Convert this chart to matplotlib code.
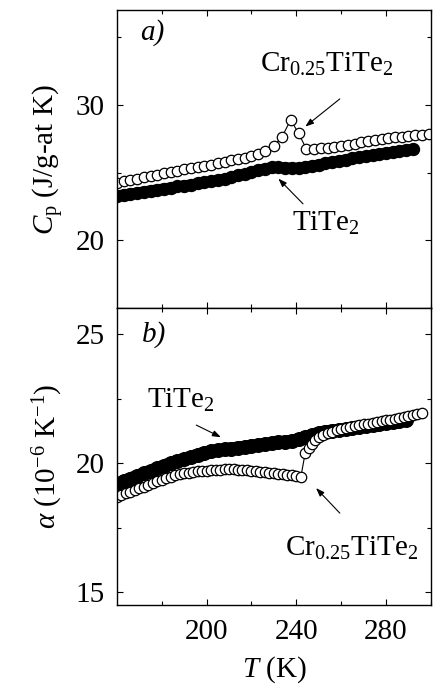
import matplotlib
matplotlib.use("Agg")
import matplotlib.pyplot as plt
from matplotlib.ticker import MultipleLocator, FixedLocator

plt.rcParams['font.family'] = ['Liberation Serif', 'DejaVu Serif']
plt.rcParams['mathtext.fontset'] = 'custom'
plt.rcParams['mathtext.rm'] = 'Liberation Serif'
plt.rcParams['mathtext.it'] = 'Liberation Serif:italic'
plt.rcParams['mathtext.bf'] = 'Liberation Serif:bold'

# specific heat, Cr0.25TiTe2 (open circles)
T_cp_cr = [160, 163, 166, 169, 172, 175, 178, 181, 184, 187, 190, 193, 196, 199,
           202, 205, 208, 211, 214, 217, 220, 223, 226, 230, 233.5, 237.5, 241,
           244.5, 248, 251, 254, 257, 260, 263, 266, 269, 272, 275, 278, 281, 284,
           287, 290, 293, 296, 299]
cp_cr = [24.25, 24.35, 24.45, 24.55, 24.65, 24.75, 24.85, 24.95, 25.05, 25.15,
         25.25, 25.35, 25.45, 25.5, 25.6, 25.7, 25.8, 25.9, 26.0, 26.1,
         26.2, 26.35, 26.6, 27.0, 27.6, 28.9, 27.9, 26.75,
         26.75, 26.8, 26.85, 26.9, 26.95, 27.05, 27.15, 27.25, 27.3, 27.4,
         27.5, 27.55, 27.6, 27.65, 27.7, 27.75, 27.8, 27.85]

# specific heat, TiTe2 (filled)
T_cp_ti = [160, 163, 166, 169, 172, 175, 178, 181, 184, 187, 190, 193, 196, 199,
           202, 205, 208, 211, 214, 217, 220, 223, 226, 229, 232, 235, 238, 241,
           244, 247, 250, 253, 256, 259, 262, 265, 268, 271, 274, 277, 280, 283,
           286, 289, 292]
cp_ti = [23.3, 23.38, 23.45, 23.52, 23.6, 23.68, 23.75, 23.83, 23.9, 23.98,
         24.05, 24.12, 24.2, 24.28, 24.35, 24.45, 24.55, 24.65, 24.8, 24.9,
         25.05, 25.2, 25.3, 25.4, 25.4, 25.38, 25.35, 25.35, 25.42, 25.5,
         25.6, 25.68, 25.78, 25.88, 25.97, 26.05, 26.13, 26.22, 26.3, 26.38,
         26.45, 26.52, 26.6, 26.68, 26.75]

# thermal expansion, TiTe2 (filled)
T_a_ti = [160, 163, 166, 169, 172, 175, 178, 181, 184, 187, 190, 193, 196, 199,
          202, 205, 208, 211, 214, 217, 220, 223, 226, 229, 232, 235, 238, 241,
          244, 247, 250, 253, 256, 259, 262, 265, 268, 271, 274, 277, 280, 283,
          286, 289]
a_ti = [19.2, 19.3, 19.4, 19.5, 19.6, 19.7, 19.8, 19.9, 20.0, 20.08,
        20.16, 20.24, 20.32, 20.4, 20.45, 20.5, 20.53, 20.56, 20.59, 20.62,
        20.66, 20.7, 20.73, 20.76, 20.8, 20.83, 20.86, 20.92, 21.0, 21.08,
        21.17, 21.22, 21.25, 21.28, 21.31, 21.34, 21.38, 21.42, 21.46, 21.5,
        21.54, 21.58, 21.62, 21.66]

# thermal expansion, Cr0.25TiTe2 (open circles)
T_a_cr = [160, 162, 164, 166, 168, 170, 172, 174, 176, 178, 180, 182, 184, 186,
          188, 190, 192, 194, 196, 198, 200, 202, 204, 206, 208, 210, 212, 214,
          216, 218, 220, 222, 224, 226, 228, 230, 232, 234, 236, 238, 240, 242,
          244, 245.5, 247, 248.5, 250, 252, 254, 256, 258, 260, 262, 264, 266,
          268, 270, 272, 274, 276, 278, 280, 282, 284, 286, 288, 290, 292, 294, 296]
a_cr = [18.7, 18.76, 18.82, 18.88, 18.95, 19.02, 19.09, 19.16, 19.23, 19.3,
        19.36, 19.42, 19.47, 19.52, 19.56, 19.6, 19.63, 19.66, 19.68, 19.7,
        19.71, 19.72, 19.73, 19.74, 19.75, 19.75, 19.75, 19.74, 19.73, 19.72,
        19.71, 19.69, 19.67, 19.65, 19.63, 19.61, 19.59, 19.57, 19.55, 19.53,
        19.5, 19.45,
        20.4, 20.6, 20.75, 20.9, 21.0, 21.1, 21.17, 21.22, 21.27, 21.31,
        21.35, 21.39, 21.43, 21.47, 21.5, 21.53, 21.56, 21.59, 21.62, 21.65,
        21.68, 21.72, 21.75, 21.78, 21.82, 21.86, 21.9, 21.94]

T_major = [200, 240, 280]
T_minor = [180, 220, 260, 300]

FS = 21

fig = plt.figure(figsize=(4.33, 6.91), dpi=100)
ax1 = fig.add_axes([0.270, 0.554, 0.725, 0.4315])
ax2 = fig.add_axes([0.270, 0.1245, 0.725, 0.4295], sharex=ax1)

open_kw = dict(marker='o', ms=7.5, mfc='white', mec='black', mew=0.9,
               color='black', lw=0.8)

# dense filled points merge into a solid band
ax1.plot(T_cp_ti, cp_ti, marker='o', ms=8.6, mfc='black', mec='black',
         color='black', lw=7.5, solid_capstyle='round')
ax1.plot(T_cp_cr, cp_cr, **open_kw)

ax2.plot(T_a_ti, a_ti, marker='o', ms=9.8, mfc='black', mec='black',
         color='black', lw=9, solid_capstyle='round')
ax2.plot(T_a_cr, a_cr, **open_kw)

ax1.set_xlim(160, 300)
ax1.set_ylim(15, 37)
ax2.set_ylim(14.5, 26)

for ax in (ax1, ax2):
    ax.xaxis.set_major_locator(FixedLocator(T_major))
    ax.xaxis.set_minor_locator(FixedLocator(T_minor))
    ax.tick_params(which='both', direction='in', top=True, right=True,
                   labelsize=FS, width=0.8)
    ax.tick_params(which='major', length=4)
    ax.tick_params(which='minor', length=3)
    ax.tick_params(axis='y', pad=9)
    ax.tick_params(axis='x', pad=10)
    for s in ax.spines.values():
        s.set_linewidth(1.0)

ax1.yaxis.set_major_locator(MultipleLocator(10))
ax1.yaxis.set_minor_locator(MultipleLocator(5))
ax2.yaxis.set_major_locator(MultipleLocator(5))
ax2.yaxis.set_minor_locator(MultipleLocator(2.5))
ax1.tick_params(labelbottom=False)

ax1.set_ylabel(r'$C_{\rm p}$ (J/g-at K)', fontsize=FS, labelpad=7)
ax2.set_ylabel(r'$\alpha$ (10$^{-6}$ K$^{-1}$)', fontsize=FS, labelpad=7)
ax2.set_xlabel(r'$T$ (K)', fontsize=FS, labelpad=7)

ax1.text(0.073, 0.925, 'a)', transform=ax1.transAxes, fontsize=FS,
         style='italic', ha='left', va='center')
ax2.text(0.08, 0.91, 'b)', transform=ax2.transAxes, fontsize=FS,
         style='italic', ha='left', va='center')

arrow = dict(arrowstyle='-|>,head_length=0.5,head_width=0.18', color='black',
             lw=0.8, shrinkA=0, shrinkB=0)

ax1.text(253.7, 33.0, r'Cr$_{0.25}$TiTe$_2$', fontsize=FS, ha='center', va='center')
ax1.annotate('', xy=(244, 28.4), xytext=(259.4, 30.44), arrowprops=arrow)
ax1.text(253.2, 21.25, r'TiTe$_2$', fontsize=FS, ha='center', va='center')
ax1.annotate('', xy=(232, 24.56), xytext=(243, 22.7), arrowprops=arrow)

ax2.text(188.7, 22.44, r'TiTe$_2$', fontsize=FS, ha='center', va='center')
ax2.annotate('', xy=(206.4, 21.0), xytext=(195.4, 21.47), arrowprops=arrow)
ax2.text(264.7, 16.7, r'Cr$_{0.25}$TiTe$_2$', fontsize=FS, ha='center', va='center')
ax2.annotate('', xy=(248.8, 19.03), xytext=(259.4, 18.06), arrowprops=arrow)

fig.savefig('out.png', dpi=100)
